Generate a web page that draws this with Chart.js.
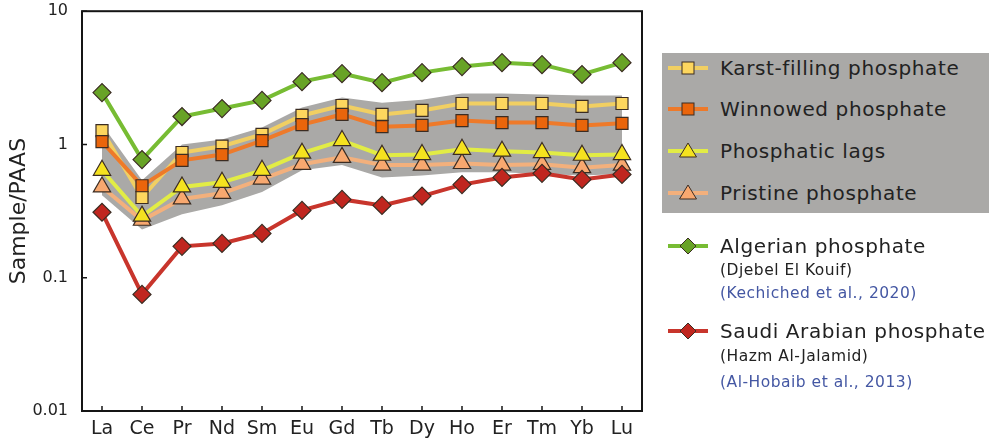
<!DOCTYPE html>
<html>
<head>
<meta charset="utf-8">
<script src="https://cdn.jsdelivr.net/npm/chart.js@4"></script>
<style>
  body { margin: 0; background: #fff; font-family: "DejaVu Sans", sans-serif; color: #222; }
  #wrap { position: relative; width: 989px; height: 442px; }
  #box { position: absolute; left: 662px; top: 53px; width: 327px; height: 160px; background: #aaa9a7; }
  .row { position: absolute; left: 668px; height: 26px; line-height: 26px; white-space: nowrap; }
  .row svg { position: absolute; left: 0; top: 3px; }
  .row span { position: absolute; left: 52px; font-size: 20px; letter-spacing: 0.6px; }
  .sub { position: absolute; left: 720px; font-size: 15.5px; letter-spacing: 0.5px; height: 20px; line-height: 20px; white-space: nowrap; }
  .ref { color: #4457a3; }
</style>
</head>
<body>
<div id="wrap">
  <canvas id="chart" width="989" height="442"></canvas>
  <div id="box"></div>
  <div id="legend"></div>
</div>
<script>
// element order on the x axis
const elements = ['La', 'Ce', 'Pr', 'Nd', 'Sm', 'Eu', 'Gd', 'Tb', 'Dy', 'Ho', 'Er', 'Tm', 'Yb', 'Lu'];

// PAAS-normalised values
const karstFilling = [1.27, 0.40, 0.87, 0.97, 1.19, 1.65, 1.96, 1.68, 1.80, 2.03, 2.03, 2.03, 1.93, 2.03];
const winnowed     = [1.05, 0.49, 0.76, 0.84, 1.07, 1.41, 1.68, 1.36, 1.39, 1.51, 1.46, 1.46, 1.39, 1.44];
const phosLags     = [0.64, 0.29, 0.48, 0.52, 0.64, 0.86, 1.07, 0.83, 0.84, 0.92, 0.89, 0.87, 0.83, 0.84];
const pristine     = [0.48, 0.27, 0.39, 0.43, 0.55, 0.71, 0.80, 0.70, 0.70, 0.72, 0.70, 0.71, 0.67, 0.70];
const algerian     = [2.45, 0.77, 1.62, 1.86, 2.14, 2.96, 3.40, 2.91, 3.46, 3.84, 4.11, 3.97, 3.35, 4.11];
const saudi        = [0.31, 0.075, 0.172, 0.181, 0.215, 0.32, 0.387, 0.349, 0.41, 0.50, 0.566, 0.607, 0.547, 0.596];

// grey envelope around the four Tunisian groups
const bandTop    = [1.41, 0.54, 1.00, 1.09, 1.34, 1.89, 2.25, 2.06, 2.17, 2.41, 2.41, 2.37, 2.33, 2.33];
const bandBottom = [0.415, 0.23, 0.30, 0.35, 0.44, 0.64, 0.70, 0.566, 0.585, 0.62, 0.62, 0.60, 0.585, 0.60];

const yTicks = [0.01, 0.1, 1, 10];
const yTickLabels = ['0.01', '0.1', '1', '10'];

const EDGE = '#3b2c22';

function series(label, data, line, fill, style, radius) {
    return {
        label: label, data: data,
        borderColor: line, borderWidth: 4, tension: 0,
        pointStyle: style, pointRadius: radius, pointBackgroundColor: fill,
        pointBorderColor: EDGE, pointBorderWidth: 1.2, fill: false
    };
}

// frame + inward ticks
const framePlugin = {
    id: 'frame',
    afterDraw(chart) {
        const { ctx, chartArea: a, scales } = chart;
        ctx.save();
        ctx.strokeStyle = '#151515';
        ctx.lineWidth = 1.5;
        ctx.beginPath();
        elements.forEach((e, i) => {
            const x = scales.x.getPixelForValue(i);
            ctx.moveTo(x, a.bottom); ctx.lineTo(x, a.bottom - 5);
        });
        yTicks.forEach(v => {
            const y = scales.y.getPixelForValue(v);
            ctx.moveTo(a.left, y); ctx.lineTo(a.left + 5, y);
        });
        ctx.stroke();
        ctx.lineWidth = 2;
        ctx.strokeRect(a.left, a.top, a.right - a.left, a.bottom - a.top);
        ctx.restore();
    }
};

new Chart(document.getElementById('chart'), {
    type: 'line',
    data: {
        labels: elements,
        datasets: [
            series('Saudi Arabian phosphate', saudi, '#c8352c', '#c0261f', 'rectRot', 9),
            series('Algerian phosphate', algerian, '#77bc33', '#68a326', 'rectRot', 9),
            series('Phosphatic lags', phosLags, '#e2ec45', '#f5e21f', 'triangle', 10),
            series('Pristine phosphate', pristine, '#f3b07c', '#f8a86f', 'triangle', 10),
            series('Winnowed phosphate', winnowed, '#ee7a2a', '#ea650b', 'rect', 8.5),
            series('Karst-filling phosphate', karstFilling, '#f1cf62', '#fdd65e', 'rect', 8.5),
            { label: 'band top', data: bandTop, borderWidth: 0, pointRadius: 0, fill: '+1', backgroundColor: '#aaa9a7', tension: 0 },
            { label: 'band bottom', data: bandBottom, borderWidth: 0, pointRadius: 0, fill: false, tension: 0 }
        ]
    },
    options: {
        responsive: false,
        animation: false,
        layout: { padding: { left: 0, right: 347, top: 9, bottom: 0 } },
        plugins: { legend: { display: false }, tooltip: { enabled: false } },
        scales: {
            x: {
                offset: true,
                grid: { display: false, drawTicks: false },
                border: { display: false },
                ticks: { color: '#222', font: { family: 'DejaVu Sans', size: 19 }, padding: 7, maxRotation: 0, autoSkip: false },
                afterFit(s) { s.height = 31; s.paddingLeft = 0; s.paddingRight = 0; }
            },
            y: {
                type: 'logarithmic',
                min: 0.01, max: 10,
                grid: { display: false, drawTicks: false },
                border: { display: false },
                afterBuildTicks(s) { s.ticks = yTicks.map(v => ({ value: v })); },
                ticks: {
                    color: '#222', font: { family: 'DejaVu Sans', size: 16 }, padding: 14,
                    callback: (v, i) => yTickLabels[i]
                },
                title: { display: true, text: 'Sample/PAAS', color: '#222', font: { family: 'DejaVu Sans', size: 22 }, padding: { top: 6, bottom: 0 } },
                afterFit(s) { s.width = 82; s.paddingTop = 0; s.paddingBottom = 0; }
            }
        }
    },
    plugins: [framePlugin]
});

// legend (html)
const legendRows = [
    { y: 68, text: 'Karst-filling phosphate', line: '#f1cf62', fill: '#fdd65e', shape: 'rect' },
    { y: 109, text: 'Winnowed phosphate', line: '#ee7a2a', fill: '#ea650b', shape: 'rect' },
    { y: 151, text: 'Phosphatic lags', line: '#e2ec45', fill: '#f5e21f', shape: 'tri' },
    { y: 193, text: 'Pristine phosphate', line: '#f3b07c', fill: '#f8a86f', shape: 'tri' },
    { y: 246, text: 'Algerian phosphate', line: '#77bc33', fill: '#68a326', shape: 'dia' },
    { y: 331, text: 'Saudi Arabian phosphate', line: '#c8352c', fill: '#c0261f', shape: 'dia' }
];
const legendSubs = [
    { y: 270, text: '(Djebel El Kouif)', ref: false },
    { y: 293, text: '(Kechiched et al., 2020)', ref: true },
    { y: 356, text: '(Hazm Al-Jalamid)', ref: false },
    { y: 382, text: '(Al-Hobaib et al., 2013)', ref: true }
];

function symbol(r) {
    let m;
    if (r.shape === 'rect') m = `<rect x="14" y="4" width="12" height="12" fill="${r.fill}" stroke="${EDGE}" stroke-width="1"/>`;
    else if (r.shape === 'tri') m = `<polygon points="20,2 28.5,16 11.5,16" fill="${r.fill}" stroke="${EDGE}" stroke-width="1"/>`;
    else m = `<polygon points="20,2 28,10 20,18 12,10" fill="${r.fill}" stroke="${EDGE}" stroke-width="1"/>`;
    return `<svg width="40" height="20"><line x1="0" y1="10" x2="40" y2="10" stroke="${r.line}" stroke-width="4"/>${m}</svg>`;
}

const lg = document.getElementById('legend');
let html = '';
legendRows.forEach(r => {
    html += `<div class="row" style="top:${r.y - 13}px">${symbol(r)}<span>${r.text}</span></div>`;
});
legendSubs.forEach(s => {
    html += `<div class="sub${s.ref ? ' ref' : ''}" style="top:${s.y - 10}px">${s.text}</div>`;
});
lg.innerHTML = html;
</script>
</body>
</html>
